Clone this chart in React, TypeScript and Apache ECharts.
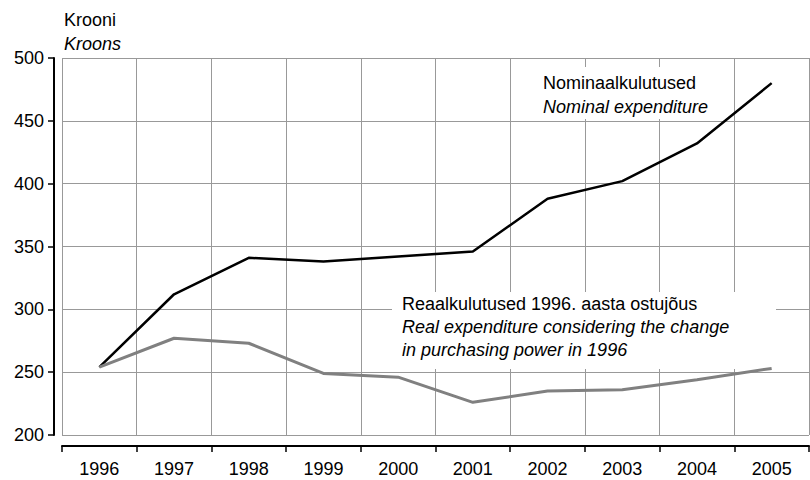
import React, { useEffect, useRef } from "react";
import * as echarts from "echarts";

const years = ["1996", "1997", "1998", "1999", "2000", "2001", "2002", "2003", "2004", "2005"];
const nominal = [254, 312, 341, 338, 342, 346, 388, 402, 432, 480];
const real = [254, 277, 273, 249, 246, 226, 235, 236, 244, 253];
const yTicks = { min: 200, max: 500, interval: 50 };

const FONT = "'Liberation Sans', Arial, sans-serif";
const FS = 18;

export default function App() {
  const ref = useRef<HTMLDivElement>(null);
  useEffect(() => {
    if (!ref.current) return;
    const chart = echarts.init(ref.current, null, { renderer: "svg" });
    const txt = (x: number, y: number, s: string, italic = false) => ({
      type: "text",
      x,
      y,
      z: 10,
      style: {
        text: s,
        fill: "#000",
        font: `${italic ? "italic " : ""}${FS}px ${FONT}`,
        textVerticalAlign: "middle",
      },
    });
    chart.setOption({
      animation: false,
      backgroundColor: "#fff",
      grid: { left: 62, right: 1, top: 58, bottom: 45, containLabel: false },
      xAxis: {
        type: "category",
        data: years,
        boundaryGap: true,
        offset: 11,
        axisLine: { show: true, lineStyle: { color: "#000", width: 2 } },
        axisTick: { show: true, inside: false, length: 6, lineStyle: { color: "#000", width: 1.5 } },
        axisLabel: { color: "#000", fontSize: FS, fontFamily: FONT, margin: 14 },
        splitLine: { show: true, interval: 0, lineStyle: { color: "#999", width: 1 } },
      },
      yAxis: {
        type: "value",
        min: yTicks.min,
        max: yTicks.max,
        interval: yTicks.interval,
        offset: 8,
        axisLine: { show: true, lineStyle: { color: "#000", width: 2 } },
        axisTick: { show: true, length: 6, lineStyle: { color: "#000", width: 1.5 } },
        axisLabel: { color: "#000", fontSize: FS, fontFamily: FONT, margin: 10 },
        splitLine: { show: true, lineStyle: { color: "#999", width: 1 } },
      },
      series: [
        {
          type: "line",
          data: nominal,
          z: 5,
          symbol: "none",
          lineStyle: { color: "#000", width: 2.5 },
        },
        {
          type: "line",
          data: real,
          z: 5,
          symbol: "none",
          lineStyle: { color: "#808080", width: 3 },
        },
      ],
      graphic: [
        { type: "rect", z: 1, shape: { x: 533, y: 67, width: 198, height: 52 }, style: { fill: "#fff" } },
        { type: "rect", z: 1, shape: { x: 392, y: 292, width: 384, height: 77 }, style: { fill: "#fff" } },
        txt(64, 20, "Krooni"),
        txt(64, 44, "Kroons", true),
        txt(543, 83, "Nominaalkulutused"),
        txt(543, 107, "Nominal expenditure", true),
        txt(402, 304, "Reaalkulutused 1996. aasta ostujõus"),
        txt(402, 327, "Real expenditure considering the change", true),
        txt(402, 350, "in purchasing power in 1996", true),
      ],
    });
    return () => chart.dispose();
  }, []);
  return <div ref={ref} style={{ width: 810, height: 480, position: "absolute", left: 0, top: 0 }} />;
}
